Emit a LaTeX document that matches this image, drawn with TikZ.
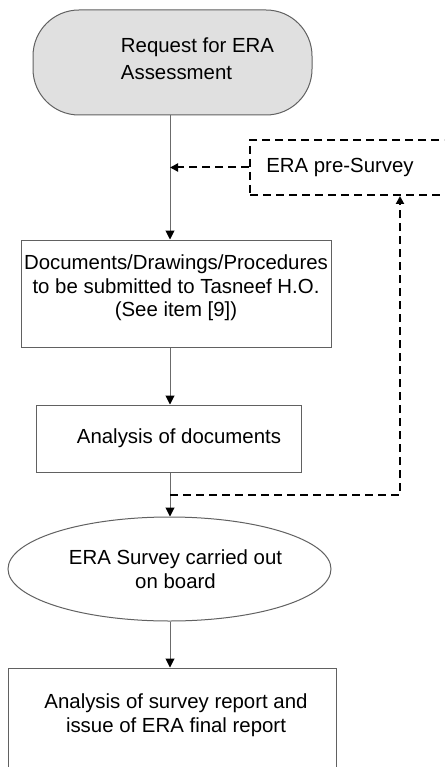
\documentclass[tikz,border=0pt]{standalone}
\usepackage{fontspec}
\setmainfont{Liberation Sans}
\usetikzlibrary{arrows.meta,shapes.geometric}
\begin{document}
\begin{tikzpicture}[x=1pt,y=-1pt,
  every node/.style={font=\fontsize{20.4}{23.5}\selectfont, text=black},
  shapebox/.style={draw=black!62, line width=1pt, inner sep=0pt},
  dashbox/.style={draw=black, line width=2pt, dash pattern=on 8pt off 5pt, inner sep=0pt},
  flow/.style={draw=black!58, line width=1pt, -{Triangle[length=9pt,width=9pt,color=black]}},
  dflow/.style={draw=black, line width=2pt, dash pattern=on 8pt off 5pt, -{Triangle[length=8pt,width=8pt]}}]
\clip (0,0) rectangle (444,767);
\fill[white] (0,0) rectangle (444,767);
\coordinate (spine) at (170,0);

\node[shapebox, fill=black!12, rounded corners=46pt, minimum width=279pt, minimum height=105pt,
  label={[align=left, yshift=4pt, font=\fontsize{20.4}{27}\selectfont]center:\hspace*{50pt}Request for ERA\\\hspace*{50pt}Assessment}] (req) at (172.5,62.5) {};

\node[dashbox, minimum width=210pt, minimum height=55pt, align=left] (pre) at (355,167.5)
  {ERA pre-Survey\hspace*{30pt}};

\node[shapebox, minimum width=310pt, minimum height=107pt,
  label={[align=center, yshift=5.5pt]center:Documents/Drawings/Procedures\\to be submitted to Tasneef H.O.\\(See item [9])}] (docs) at (176,293.5) {};

\node[shapebox, minimum width=265pt, minimum height=67pt, align=left] (ana) at (168.5,438.5)
  {\hspace*{21pt}Analysis of documents};

\node[shapebox, ellipse, minimum width=323pt, minimum height=104pt, align=center] (survey) at (169.5,569)
  {\hspace*{12pt}ERA Survey carried out\\\hspace*{12pt}on board};

\node[shapebox, minimum width=328pt, minimum height=140pt,
  label={[align=center, yshift=23pt, xshift=4pt]center:Analysis of survey report and\\issue of ERA final report}] (final) at (172,738) {};

\coordinate (branch) at (170,495);
\coordinate (turn) at (400,495);

\draw[flow] (req.south -| spine) -- (docs.north -| spine);
\draw[dflow] (pre.west) -- (pre.west -| spine);
\draw[flow] (docs.south -| spine) -- (ana.north -| spine);
\draw[flow] (ana.south -| spine) -- (survey.north -| spine);
\draw[dflow] (branch) -- (turn) -- (turn |- pre.south);
\draw[flow] (survey.south -| spine) -- (final.north -| spine);
\end{tikzpicture}
\end{document}
